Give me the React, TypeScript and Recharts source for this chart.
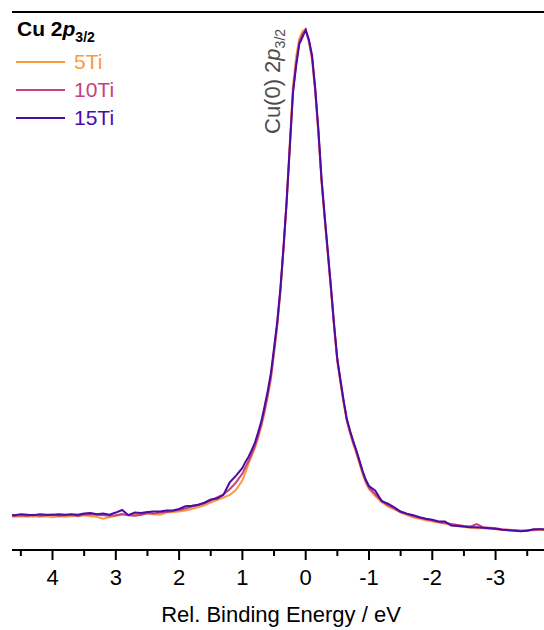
import React from 'react'
import { LineChart, Line, XAxis, YAxis, ReferenceLine } from 'recharts'

// binding energy relative to Cu(0) 2p3/2, eV
const energy = [
  4.7, 4.6, 4.5, 4.4, 4.3, 4.2, 4.1, 4.0, 3.9, 3.8, 3.7, 3.6, 3.5, 3.4, 3.3, 3.2, 3.1, 3.0, 2.9,
  2.8, 2.7, 2.6, 2.5, 2.4, 2.3, 2.2, 2.1, 2.0, 1.9, 1.8, 1.7, 1.6, 1.5, 1.4, 1.3, 1.2, 1.1, 1.0,
  0.95, 0.9, 0.85, 0.8, 0.75, 0.7, 0.65, 0.6, 0.55, 0.5, 0.45, 0.4, 0.35, 0.3, 0.25, 0.2, 0.15,
  0.1, 0.05, 0.0, -0.05, -0.1, -0.15, -0.2, -0.25, -0.3, -0.35, -0.4, -0.45, -0.5, -0.55, -0.6,
  -0.65, -0.7, -0.75, -0.8, -0.85, -0.9, -0.95, -1.0,
  -1.1, -1.2, -1.3, -1.4, -1.5, -1.6, -1.7, -1.8, -1.9, -2.0, -2.1, -2.2, -2.3, -2.4, -2.5,
  -2.6, -2.7, -2.8, -2.9, -3.0, -3.1, -3.2, -3.3, -3.4, -3.5, -3.6, -3.7, -3.8,
]

const ti5 = [
  0.062, 0.062, 0.063, 0.062, 0.063, 0.062, 0.063, 0.061, 0.063, 0.062, 0.063, 0.064, 0.065,
  0.063, 0.062, 0.058, 0.061, 0.064, 0.066, 0.066, 0.067, 0.066, 0.068, 0.067, 0.066, 0.07,
  0.071, 0.072, 0.074, 0.077, 0.08, 0.084, 0.089, 0.094, 0.099, 0.104, 0.114, 0.132,
  0.148, 0.165, 0.18, 0.195, 0.214, 0.236, 0.262, 0.292, 0.326, 0.376, 0.428, 0.494, 0.578,
  0.672, 0.784, 0.892, 0.948, 0.982, 0.996, 1.0, 0.975, 0.942, 0.88, 0.8, 0.706, 0.634, 0.566,
  0.497, 0.425, 0.36, 0.318, 0.28, 0.246, 0.222, 0.202, 0.184, 0.164, 0.144, 0.127, 0.115,
  0.102, 0.09, 0.082, 0.076, 0.07, 0.065, 0.061, 0.058, 0.055, 0.053, 0.051, 0.049, 0.046,
  0.044, 0.042, 0.041, 0.04, 0.04, 0.039, 0.038, 0.037, 0.036, 0.036, 0.035, 0.035, 0.036,
  0.037, 0.037,
]

const ti10 = [
  0.064, 0.064, 0.065, 0.064, 0.066, 0.064, 0.065, 0.066, 0.064, 0.065, 0.066, 0.063, 0.066,
  0.067, 0.066, 0.065, 0.064, 0.065, 0.067, 0.065, 0.064, 0.066, 0.069, 0.068, 0.07, 0.071,
  0.073, 0.075, 0.078, 0.081, 0.084, 0.088, 0.093, 0.099, 0.105, 0.115, 0.128, 0.145,
  0.158, 0.17, 0.184, 0.199, 0.218, 0.24, 0.267, 0.297, 0.331, 0.38, 0.431, 0.496, 0.578,
  0.668, 0.774, 0.88, 0.935, 0.976, 0.99, 0.999, 0.978, 0.946, 0.884, 0.804, 0.71, 0.638,
  0.569, 0.5, 0.428, 0.363, 0.322, 0.283, 0.248, 0.225, 0.205, 0.187, 0.167, 0.147, 0.13,
  0.118, 0.105, 0.093, 0.084, 0.078, 0.071, 0.067, 0.063, 0.06, 0.057, 0.055, 0.052, 0.05,
  0.048, 0.046, 0.044, 0.043, 0.048, 0.042, 0.041, 0.04, 0.038, 0.037, 0.036, 0.035, 0.036,
  0.037, 0.038, 0.038,
]

const ti15 = [
  0.066, 0.065, 0.067, 0.066, 0.065, 0.067, 0.066, 0.066, 0.067, 0.066, 0.067, 0.066, 0.068,
  0.069, 0.067, 0.068, 0.066, 0.07, 0.075, 0.065, 0.07, 0.069, 0.071, 0.072, 0.072, 0.074,
  0.074, 0.077, 0.082, 0.083, 0.085, 0.089, 0.095, 0.097, 0.104, 0.128, 0.141, 0.156,
  0.168, 0.178, 0.191, 0.205, 0.225, 0.246, 0.274, 0.304, 0.338, 0.387, 0.437, 0.501, 0.582,
  0.671, 0.776, 0.88, 0.93, 0.972, 0.985, 0.998, 0.98, 0.95, 0.887, 0.808, 0.713, 0.641,
  0.572, 0.503, 0.43, 0.365, 0.325, 0.285, 0.25, 0.228, 0.208, 0.19, 0.17, 0.15, 0.133,
  0.121, 0.112, 0.092, 0.087, 0.08, 0.072, 0.068, 0.065, 0.061, 0.058, 0.056, 0.053, 0.053,
  0.045, 0.044, 0.043, 0.042, 0.042, 0.041, 0.04, 0.039, 0.037, 0.036, 0.035, 0.034, 0.035,
  0.038, 0.038, 0.037,
]

const energyTicks = [-3.5, -3, -2.5, -2, -1.5, -1, -0.5, 0, 0.5, 1, 1.5, 2, 2.5, 3, 3.5, 4, 4.5]

const series = [
  { key: 'ti5', name: '5Ti', color: '#FA9A3E' },
  { key: 'ti10', name: '10Ti', color: '#C5407E' },
  { key: 'ti15', name: '15Ti', color: '#4C0CA3' },
]

const data = energy.map((x, i) => ({ x, ti5: ti5[i], ti10: ti10[i], ti15: ti15[i] }))

const X_DOMAIN: [number, number] = [-3.765, 4.64]
const Y_TOP = 1.033

function EnergyTick(props: any) {
  const { x, y, payload } = props
  const v = payload.value as number
  const major = Number.isInteger(v)
  return (
    <g>
      <line x1={x} x2={x} y1={y} y2={y + (major ? 10 : 6)} stroke="#000" strokeWidth={2} />
      {major && (
        <text x={x} y={y + 35} textAnchor="middle" fontSize={22} fill="#000">
          {v}
        </text>
      )}
    </g>
  )
}

export default function App() {
  return (
    <div
      style={{
        position: 'absolute',
        left: 0,
        top: 0,
        width: 544,
        height: 630,
        background: '#fff',
        fontFamily: '"Liberation Sans", Arial, sans-serif',
      }}
    >
      <LineChart width={544} height={630} data={data} margin={{ top: 12, right: 0, left: 12, bottom: 0 }}>
        <XAxis
          dataKey="x"
          type="number"
          domain={X_DOMAIN}
          allowDataOverflow
          reversed
          ticks={energyTicks}
          interval={0}
          tick={<EnergyTick />}
          tickLine={false}
          tickSize={0}
          tickMargin={0}
          axisLine={{ stroke: '#000', strokeWidth: 2 }}
          height={80}
          label={{ value: 'Rel. Binding Energy / eV', position: 'insideBottom', offset: 8, dx: 3, fontSize: 22, fill: '#000' }}
        />
        <YAxis
          type="number"
          domain={[-0.002, Y_TOP]}
          allowDataOverflow
          width={0}
          tick={false}
          tickLine={false}
          axisLine={{ stroke: '#000', strokeWidth: 2 }}
        />
        <ReferenceLine y={Y_TOP} stroke="#000" strokeWidth={2} />
        {series.map(s => (
          <Line
            key={s.key}
            type="linear"
            dataKey={s.key}
            name={s.name}
            stroke={s.color}
            strokeWidth={2}
            dot={false}
            isAnimationActive={false}
          />
        ))}
      </LineChart>
      <svg width={544} height={630} style={{ position: 'absolute', left: 0, top: 0, pointerEvents: 'none' }}>
        <text x={17} y={36} fontSize={21} fontWeight="bold" fill="#000">
          Cu 2<tspan fontStyle="italic">p</tspan>
          <tspan fontSize={14} dy={6}>3/2</tspan>
        </text>
        {series.map((s, i) => (
          <g key={s.key}>
            <line x1={16} x2={65} y1={62 + 28 * i} y2={62 + 28 * i} stroke={s.color} strokeWidth={2} />
            <text x={74} y={62 + 28 * i} dy="0.35em" fontSize={21} fill={s.color}>
              {s.name}
            </text>
          </g>
        ))}
        <text transform="translate(280,134) rotate(-90)" fontSize={22} fill="#4d4d4d">
          Cu(0) 2<tspan fontStyle="italic">p</tspan>
          <tspan fontSize={14} dy={5}>3/2</tspan>
        </text>
      </svg>
    </div>
  )
}
